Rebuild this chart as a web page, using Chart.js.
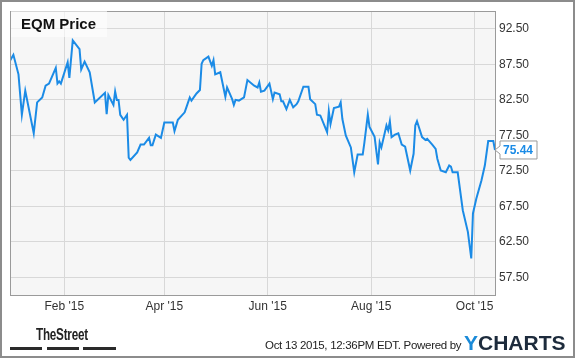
<!DOCTYPE html>
<html>
<head>
<meta charset="utf-8">
<script src="https://cdn.jsdelivr.net/npm/chart.js@4/dist/chart.umd.min.js"></script>
<style>
  body { margin: 0; background: #fff; font-family: "Liberation Sans", Arial, sans-serif; }
  #wrap { position: relative; width: 575px; height: 358px; }
  #frame { position: absolute; left: 0; top: 0; width: 575px; height: 358px; box-sizing: border-box; border: 2px solid #8c8c8c; pointer-events: none; }
  .txt { position: absolute; white-space: nowrap; }
  #titleBox { position: absolute; left: 11px; top: 11px; width: 96px; height: 26px; background: rgba(255,255,255,0.6); }
  #title { left: 21px; top: 15px; font-size: 15px; font-weight: bold; color: #111; line-height: 18px; }
  #stamp { left: 265px; top: 338px; font-size: 11.5px; color: #222; line-height: 14px; letter-spacing: -0.3px; }
  #yc { left: 464px; top: 331px; font-size: 21px; font-weight: bold; color: #1d2b3c; line-height: 24px; }
  #yc span { color: #1a8ad8; }
  #street { left: 36px; top: 326px; font-size: 16px; font-weight: bold; color: #222; line-height: 18px; transform: scaleX(0.73); transform-origin: left top; letter-spacing: -0.3px; }
  .bar { position: absolute; top: 347px; height: 3px; background: #2a2a2a; }
</style>
</head>
<body>
<div id="wrap">
  <canvas id="myChart" width="575" height="358"></canvas>
  <div id="titleBox"></div>
  <div class="txt" id="title">EQM Price</div>
  <div class="txt" id="street">TheStreet</div>
  <div class="bar" style="left:10px;width:32px"></div>
  <div class="bar" style="left:47px;width:32px"></div>
  <div class="bar" style="left:83px;width:33px"></div>
  <div class="txt" id="stamp">Oct 13 2015, 12:36PM EDT. Powered by</div>
  <div class="txt" id="yc"><span>Y</span>CHARTS</div>
  <div id="frame"></div>
</div>
<script>
// days counted from Jan 1 2015
var days = [-1, 1, 4, 6, 8, 10, 13, 15, 18, 20, 22, 26, 27, 28, 29, 33, 34, 36, 40, 41, 43, 46, 49, 55, 56, 57,
    60, 61, 62, 63, 64, 66, 68, 69, 70, 74, 76, 78, 81, 82, 83, 85, 88, 90, 95, 96, 98, 102, 103, 105, 106, 109,
    111, 112, 113, 116, 118, 119, 120, 123, 126, 127, 130, 131, 132, 134, 137, 139, 143, 145, 146, 147, 149, 152,
    154, 155, 158, 159, 160, 162, 164, 166, 168, 169, 172, 175, 176, 179, 180, 182, 186, 187, 188, 190, 193, 194,
    195, 197, 200, 202, 204, 207, 208, 210, 211, 214, 216, 217, 218, 221, 222, 223, 224, 226, 228, 230, 232, 235,
    237, 238, 239, 242, 244, 245, 248, 250, 251, 253, 256, 258, 259, 260, 263, 266, 269, 271, 272, 274, 277, 279,
    281, 284, 285];
var prices = [88.0, 88.85, 86.1, 80.4, 83.8, 81.4, 77.8, 82.15, 82.85, 84.5, 84.8, 87.0, 84.8, 85.1, 84.8, 87.8, 85.6, 90.9, 89.65, 86.8, 87.9, 86.4, 82.15, 83.5, 80.5, 83.2,
    81.8, 83.7, 82.5, 82.5, 80.4, 79.7, 80.4, 74.35, 74.05, 75.1, 76.2, 76.2, 77.15, 76.1, 76.1, 77.6, 77.15, 79.3, 79.3, 78.1, 79.7, 80.75, 81.45, 82.85, 82.4, 83.4,
    83.9, 87.6, 88.1, 88.6, 87.3, 88.1, 86.1, 86.4, 82.95, 84.25, 82.6, 81.8, 82.5, 82.4, 82.85, 85.3, 84.5, 84.25, 84.95, 83.65, 83.8, 84.8,
    82.6, 83.55, 83.3, 82.3, 82.3, 81.2, 82.5, 81.45, 81.9, 82.3, 84.35, 84.35, 82.6, 81.9, 80.4, 80.3, 77.95, 80.9, 79.1, 81.35, 81.55, 82.15,
    79.8, 77.5, 75.8, 72.3, 74.8, 74.8, 76.5, 80.4, 78.7, 77.3, 73.4, 76.5, 75.8, 78.9, 78.2, 79.5, 77.25, 77.6, 77.8, 76.2, 75.9, 72.55,
    74.9, 78.9, 79.5, 77.25, 76.85, 77.0, 76.2, 75.6, 74.2, 72.55, 72.3, 73.25, 73.1, 72.3, 72.3, 66.95, 63.9, 60.15, 66.5, 68.6, 71.15, 73.25,
    76.7, 76.7, 75.44];

var tickDays = [31, 90, 151, 212, 273];
var tickLabels = ["Feb '15", "Apr '15", "Jun '15", "Aug '15", "Oct '15"];
var yTicks = [57.5, 62.5, 67.5, 72.5, 77.5, 82.5, 87.5, 92.5];

var points = days.map(function (d, i) { return { x: d, y: prices[i] }; });
var blue = '#1b8be6';
var font = { family: '"Liberation Sans", Arial, sans-serif', size: 12 };

// plot background + frame
var plotBox = {
    id: 'plotBox',
    beforeDraw: function (chart) {
        var a = chart.chartArea, c = chart.ctx;
        c.save();
        c.fillStyle = '#f6f6f6';
        c.fillRect(a.left, a.top, a.right - a.left, a.bottom - a.top);
        c.restore();
    },
    afterDraw: function (chart) {
        var a = chart.chartArea, c = chart.ctx;
        c.save();
        c.strokeStyle = '#9a9a9a';
        c.lineWidth = 1;
        c.strokeRect(Math.round(a.left) + 0.5, Math.round(a.top) + 0.5, Math.round(a.right - a.left), Math.round(a.bottom - a.top));

        // last price tag
        var last = prices[prices.length - 1];
        var y = chart.scales.y.getPixelForValue(last);
        var tip = a.right, x0 = a.right + 5, x1 = a.right + 42;
        c.beginPath();
        c.moveTo(x0, y - 9);
        c.lineTo(x1, y - 9);
        c.lineTo(x1, y + 9);
        c.lineTo(x0, y + 9);
        c.lineTo(x0, y + 4);
        c.lineTo(tip, y);
        c.lineTo(x0, y - 4);
        c.closePath();
        c.fillStyle = '#fff';
        c.fill();
        c.strokeStyle = '#999';
        c.stroke();
        c.fillStyle = blue;
        c.font = 'bold 12px "Liberation Sans", Arial, sans-serif';
        c.textBaseline = 'middle';
        c.fillText(last.toFixed(2), x0 + 3, y + 1);
        c.restore();
    }
};

var ctx = document.getElementById('myChart').getContext('2d');
var chart = new Chart(ctx, {
    type: 'line',
    data: {
        datasets: [{
            data: points,
            borderColor: blue,
            borderWidth: 2,
            pointRadius: 0,
            tension: 0,
            fill: false
        }]
    },
    options: {
        responsive: false,
        animation: false,
        layout: { padding: { left: 10, top: 10, right: 0, bottom: 0 } },
        plugins: { legend: { display: false }, tooltip: { enabled: false } },
        scales: {
            x: {
                type: 'linear',
                min: -1,
                max: 285,
                afterBuildTicks: function (s) { s.ticks = tickDays.map(function (v) { return { value: v }; }); },
                afterFit: function (s) { s.height = 63; },
                ticks: {
                    autoSkip: false, maxRotation: 0, padding: 4, color: '#333', font: font,
                    callback: function (v) { return tickLabels[tickDays.indexOf(v)]; }
                },
                grid: { color: '#d8d8d8', drawTicks: false },
                border: { display: false }
            },
            y: {
                position: 'right',
                min: 55,
                max: 95,
                afterBuildTicks: function (s) { s.ticks = yTicks.map(function (v) { return { value: v }; }); },
                afterFit: function (s) { s.width = 80; },
                ticks: {
                    padding: 4, color: '#333', font: font,
                    callback: function (v) { return v.toFixed(2); }
                },
                grid: { color: '#d8d8d8', drawTicks: false },
                border: { display: false }
            }
        }
    },
    plugins: [plotBox]
});
</script>
</body>
</html>
